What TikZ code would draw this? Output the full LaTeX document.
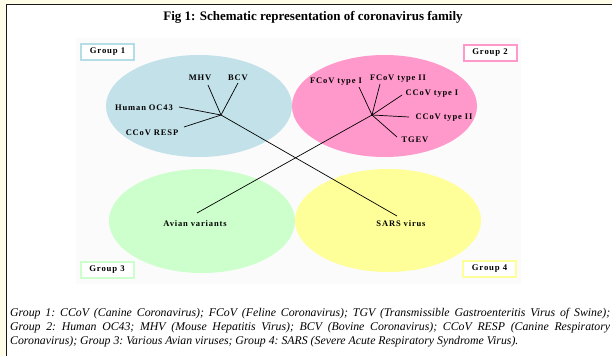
\documentclass[tikz,border=0pt]{standalone}
\usepackage{fontspec}
\setmainfont{Liberation Serif}
\newfontfamily\lblfont{Liberation Serif}[LetterSpace=10]
\definecolor{cream}{HTML}{FFFDE8}
\definecolor{bggrey}{HTML}{FBFBFB}
\definecolor{gblue}{HTML}{C2E1E9}
\definecolor{gbluebd}{HTML}{B4DDE6}
\definecolor{gpink}{HTML}{FF99CC}
\definecolor{ggreen}{HTML}{CCFFCC}
\definecolor{gyellow}{HTML}{FFFF99}
\begin{document}
\begin{tikzpicture}[x=1pt,y=-1pt,
  lbl/.style={font=\lblfont\bfseries\fontsize{8.5}{10}\selectfont, inner sep=2pt, text height=5.8pt, text depth=0pt},
  grp/.style={font=\lblfont\bfseries\fontsize{8.7}{10}\selectfont, draw=#1, fill=white, line width=2pt, minimum width=53pt, minimum height=16pt, inner sep=0pt},
  branch/.style={draw=black, line width=0.7pt}]
\useasboundingbox (0,0) rectangle (612,356);
% frame
\fill[cream] (0,0) rectangle (612,356);
\fill[white] (6.5,4.5) rectangle (612,356);
\fill[bggrey] (76,38) rectangle (521,284);
\draw[line width=1.6pt, black!90] (6.5,356) -- (6.5,4.5) -- (612,4.5);
% title
\node[anchor=base, inner sep=0pt, font=\bfseries\fontsize{13}{15}\selectfont] (title) at (313,20.7) {Fig 1: Schematic representation of coronavirus family};
% ellipses
\fill[gblue] (199,106) ellipse [x radius=93pt, y radius=51pt];
\fill[gpink] (384.5,106) ellipse [x radius=92.5pt, y radius=51pt];
\fill[ggreen] (202,221) ellipse [x radius=93pt, y radius=52pt];
\fill[gyellow] (388,220.5) ellipse [x radius=93pt, y radius=51.5pt];
% group boxes
\node[grp=gbluebd] (g1) at (107.5,52) {Group 1};
\node[grp=gpink] (g2) at (490,52.5) {Group 2};
\node[grp=ggreen] (g3) at (107,269.5) {Group 3};
\node[grp=gyellow] (g4) at (489.5,268.5) {Group 4};
% junctions
\coordinate (j1) at (221,115);
\coordinate (j2) at (372,115);
% labels group 1
\node[lbl] (mhv) at (200,78) {MHV};
\node[lbl] (bcv) at (238,78) {BCV};
\node[lbl] (oc43) at (144,108) {Human OC43};
\node[lbl] (resp) at (152,133) {CCoV RESP};
% labels group 2
\node[lbl] (fc1) at (336,81) {FCoV type I};
\node[lbl] (fc2) at (398,78) {FCoV type II};
\node[lbl] (cc1) at (432,92.5) {CCoV type I};
\node[lbl] (cc2) at (444,117) {CCoV type II};
\node[lbl] (tgev) at (415,140) {TGEV};
% labels group 3/4
\node[lbl] (avian) at (195,224) {Avian variants};
\node[lbl] (sars) at (401,224) {SARS virus};
% branches
\draw[branch] (j1) -- ([shift={(8,7)}]mhv.center);
\draw[branch] (j1) -- ([shift={(0,5)}]bcv.center);
\draw[branch] (j1) -- ([shift={(35,-1)}]oc43.center);
\draw[branch] (j1) -- ([shift={(32,-6)}]resp.center);
\draw[branch] (j2) -- ([shift={(23,6)}]fc1.center);
\draw[branch] (j2) -- ([shift={(-18,6)}]fc2.center);
\draw[branch] (j2) -- ([shift={(-30,2.5)}]cc1.center);
\draw[branch] (j2) -- ([shift={(-35,0)}]cc2.center);
\draw[branch] (j2) -- ([shift={(-18,-3)}]tgev.center);
\draw[branch] (j1) -- ([shift={(-4,-8)}]sars.center);
\draw[branch] (j2) -- ([shift={(2,-11)}]avian.center);
\fill (j2) circle (1pt);
% caption
\node[anchor=base west, inner sep=0pt, font=\itshape\fontsize{11.8}{14}\selectfont] (cap) at (10,344.5) {\vbox{\frenchspacing\baselineskip=14pt\lineskiplimit=0pt
\hbox to 600pt{\spaceskip=0.25em plus 1fil Group 1: CCoV (Canine Coronavirus); FCoV (Feline Coronavirus); TGV (Transmissible Gastroenteritis Virus of Swine);}
\hbox to 600pt{\spaceskip=0.25em plus 1fil Group 2: Human OC43; MHV (Mouse Hepatitis Virus); BCV (Bovine Coronavirus); CCoV RESP (Canine Respiratory}
\hbox{Coronavirus); Group 3: Various Avian viruses; Group 4: SARS (Severe Acute Respiratory Syndrome Virus).}}};
\end{tikzpicture}
\end{document}
